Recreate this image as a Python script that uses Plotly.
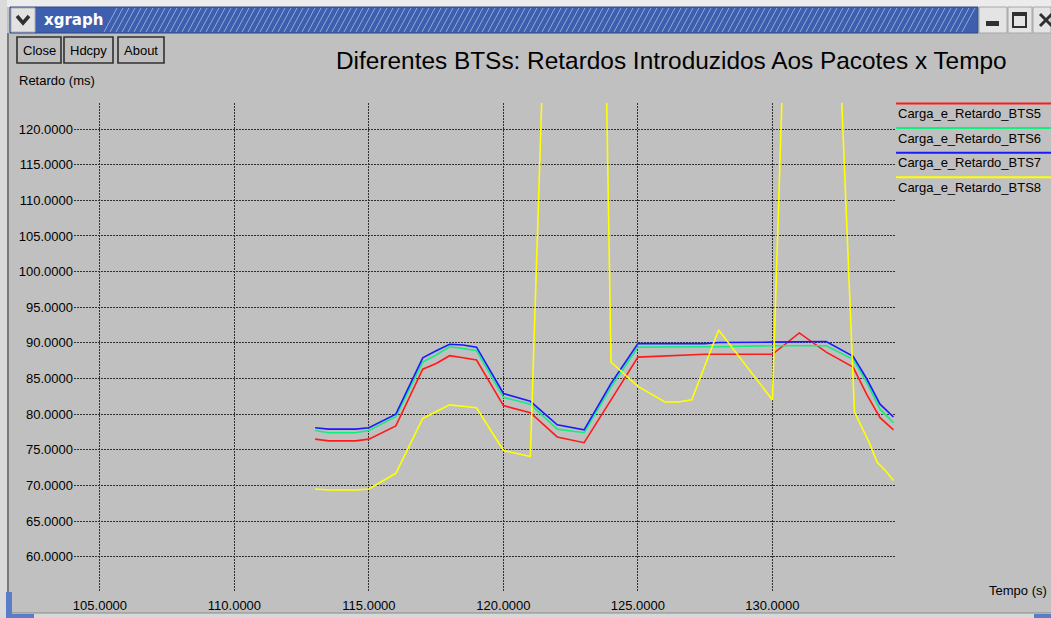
import plotly.graph_objects as go

# ---------------- data ----------------
title_text = "Diferentes BTSs: Retardos Introduzidos Aos Pacotes x Tempo"
x_label = "Tempo (s)"
y_label = "Retardo (ms)"
series_names = ["Carga_e_Retardo_BTS5", "Carga_e_Retardo_BTS6",
                "Carga_e_Retardo_BTS7", "Carga_e_Retardo_BTS8"]
series_colors = ["#ff1a1a", "#10ee80", "#1a1aff", "#ffff00"]

t_common = [113, 113.5, 114.5, 115, 116, 117, 117.5, 118, 118.5, 119, 120, 121,
            122, 122.5, 123, 124, 125, 127.5, 128, 130, 131, 131.5, 132, 133,
            133.5, 134, 134.5]
bts5 = [76.5, 76.25, 76.25, 76.5, 78.35, 86.3, 87.1, 88.2, 87.9, 87.6, 81.2, 80.2,
        76.8, 76.45, 76.0, 82.0, 88.0, 88.4, 88.4, 88.4, 91.4, 90.0, 88.7, 86.6,
        82.8, 79.5, 77.8]
bts6 = [77.7, 77.4, 77.4, 77.7, 79.65, 87.3, 88.3, 89.45, 89.2, 88.9, 82.35, 81.4,
        77.9, 77.6, 77.4, 83.8, 89.4, 89.45, 89.45, 89.6, 89.6, 89.6, 89.6, 87.7,
        84.5, 80.7, 78.8]
bts7 = [78.1, 77.9, 77.9, 78.1, 80.0, 87.9, 88.9, 89.8, 89.7, 89.4, 82.9, 81.8,
        78.5, 78.1, 77.8, 84.3, 89.9, 89.9, 90.05, 90.1, 90.1, 90.2, 90.2, 88.1,
        85.0, 81.4, 79.6]

t_bts8 = [113, 113.5, 114.5, 115, 116, 117, 118, 118.5, 119, 120, 121, 122, 123,
          123.5, 124, 125, 126, 126.5, 127, 128, 130, 131, 132, 132.5, 133.05,
          133.6, 133.9, 134.2, 134.5]
bts8 = [69.5, 69.35, 69.35, 69.5, 71.7, 79.4, 81.3, 81.1, 80.9, 74.9, 74.05, 192,
        230, 200, 87.3, 83.9, 81.7, 81.7, 82.0, 91.8, 82.0, 201, 180, 131, 80.3,
        76.0, 73.2, 72.1, 70.7]

x_ticks = [105, 110, 115, 120, 125, 130]
y_ticks = [60, 65, 70, 75, 80, 85, 90, 95, 100, 105, 110, 115, 120]
buttons = ["Close", "Hdcpy", "About"]
window_title = "xgraph"

# ---------------- layout geometry ----------------
W, H = 1051, 618
L, R, T, B = 74, 156, 103, 27
PW = W - L - R
PH = H - T - B


def X(px):
    return (px - L) / PW


def Y(py):
    return (H - B - py) / PH


BG = "#c0c0c0"
FONT = "Liberation Sans, Arial, sans-serif"

fig = go.Figure()
xs = [t_common, t_common, t_common, t_bts8]
ys = [bts5, bts6, bts7, bts8]
for name, col, xx, yy in zip(series_names, series_colors, xs, ys):
    fig.add_trace(go.Scatter(x=xx, y=yy, mode="lines", name=name,
                             line=dict(color=col, width=1.6),
                             hoverinfo="skip"))

shapes = []
annotations = []

# window chrome -------------------------------------------------------------
shapes.append(dict(type="rect", xref="paper", yref="paper", x0=X(0), x1=X(W),
                   y0=Y(0), y1=Y(7), fillcolor="#ececec", line=dict(width=0),
                   layer="below"))
shapes.append(dict(type="rect", xref="paper", yref="paper", x0=X(0), x1=X(7),
                   y0=Y(0), y1=Y(H), fillcolor="#dadada", line=dict(width=0),
                   layer="below"))
shapes.append(dict(type="line", xref="paper", yref="paper", x0=X(8), x1=X(8),
                   y0=Y(33), y1=Y(614), line=dict(color="#7a7a7a", width=2)))
shapes.append(dict(type="rect", xref="paper", yref="paper", x0=X(0), x1=X(W),
                   y0=Y(613), y1=Y(H), fillcolor="#d8d8d8", line=dict(width=0)))
shapes.append(dict(type="line", xref="paper", yref="paper", x0=X(8), x1=X(W),
                   y0=Y(613), y1=Y(613), line=dict(color="#8a8a8a", width=1)))
# blue corners
shapes.append(dict(type="rect", xref="paper", yref="paper", x0=X(6), x1=X(12),
                   y0=Y(592), y1=Y(H), fillcolor="#5a7dc8", line=dict(width=0)))
shapes.append(dict(type="rect", xref="paper", yref="paper", x0=X(6), x1=X(34),
                   y0=Y(614), y1=Y(H), fillcolor="#5a7dc8", line=dict(width=0)))
shapes.append(dict(type="rect", xref="paper", yref="paper", x0=X(1034), x1=X(W),
                   y0=Y(614), y1=Y(H), fillcolor="#5a7dc8", line=dict(width=0)))

# title bar
shapes.append(dict(type="rect", xref="paper", yref="paper", x0=X(10), x1=X(978),
                   y0=Y(7), y1=Y(33), fillcolor="#3e5fae",
                   line=dict(color="#2e4a8a", width=1)))
for sx in range(104, 964, 6):
    shapes.append(dict(type="line", xref="paper", yref="paper",
                       x0=X(sx), x1=X(sx + 13), y0=Y(32), y1=Y(8),
                       line=dict(color="#92a9dc", width=1)))
# menu (down arrow) box
shapes.append(dict(type="rect", xref="paper", yref="paper", x0=X(11), x1=X(35),
                   y0=Y(8), y1=Y(32), fillcolor="#e2e2e2",
                   line=dict(color="#b0b0b0", width=1)))
shapes.append(dict(type="path", xref="paper", yref="paper",
                   path="M {} {} L {} {} L {} {}".format(X(17), Y(16), X(23), Y(23),
                                                        X(29), Y(16)),
                   line=dict(color="#303030", width=3.5)))
# right buttons
for bx0, bx1 in [(979, 1007), (1008, 1032), (1033, 1051)]:
    shapes.append(dict(type="rect", xref="paper", yref="paper", x0=X(bx0),
                       x1=X(bx1), y0=Y(7), y1=Y(33), fillcolor="#e4e4e4",
                       line=dict(color="#a8a8a8", width=1)))
shapes.append(dict(type="rect", xref="paper", yref="paper", x0=X(986), x1=X(999),
                   y0=Y(21), y1=Y(26), fillcolor="#303030", line=dict(width=0)))
shapes.append(dict(type="rect", xref="paper", yref="paper", x0=X(1013), x1=X(1026),
                   y0=Y(13), y1=Y(27), fillcolor="rgba(0,0,0,0)",
                   line=dict(color="#303030", width=2)))
shapes.append(dict(type="rect", xref="paper", yref="paper", x0=X(1013), x1=X(1026),
                   y0=Y(13), y1=Y(16), fillcolor="#303030", line=dict(width=0)))
shapes.append(dict(type="line", xref="paper", yref="paper", x0=X(1040), x1=X(1052),
                   y0=Y(14), y1=Y(26), line=dict(color="#303030", width=3)))
shapes.append(dict(type="line", xref="paper", yref="paper", x0=X(1040), x1=X(1052),
                   y0=Y(26), y1=Y(14), line=dict(color="#303030", width=3)))

annotations.append(dict(text="<b>%s</b>" % window_title, xref="paper", yref="paper",
                        x=X(42), y=Y(20), xanchor="left", yanchor="middle",
                        showarrow=False,
                        font=dict(family="DejaVu Sans, sans-serif", size=15,
                                  color="white")))

# xgraph buttons
btn_pos = [(17, 61), (64, 113), (118, 164)]
for label, (bx0, bx1) in zip(buttons, btn_pos):
    shapes.append(dict(type="rect", xref="paper", yref="paper", x0=X(bx0),
                       x1=X(bx1), y0=Y(37), y1=Y(63), fillcolor=BG,
                       line=dict(color="#303030", width=1.6)))
    annotations.append(dict(text=label, xref="paper", yref="paper",
                            x=X((bx0 + bx1) / 2), y=Y(50), xanchor="center",
                            yanchor="middle", showarrow=False,
                            font=dict(family=FONT, size=13, color="black")))

# titles
annotations.append(dict(text=title_text, xref="paper", yref="paper", x=X(334),
                        y=Y(61), xanchor="left", yanchor="middle",
                        showarrow=False,
                        font=dict(family=FONT, size=24.4, color="black")))
annotations.append(dict(text=y_label, xref="paper", yref="paper", x=X(17),
                        y=Y(81), xanchor="left", yanchor="middle",
                        showarrow=False,
                        font=dict(family=FONT, size=13, color="black")))
annotations.append(dict(text=x_label, xref="paper", yref="paper", x=X(1049),
                        y=Y(590), xanchor="right", yanchor="middle",
                        showarrow=False,
                        font=dict(family=FONT, size=13, color="black")))

# legend (xgraph style: line above each label)
for i, (name, col) in enumerate(zip(series_names, series_colors)):
    ly = 103.5 + i * 24.6
    shapes.append(dict(type="line", xref="paper", yref="paper", x0=X(896),
                       x1=X(W), y0=Y(ly), y1=Y(ly),
                       line=dict(color=col, width=2)))
    annotations.append(dict(text=name, xref="paper", yref="paper", x=X(896),
                            y=Y(ly + 10), xanchor="left", yanchor="middle",
                            showarrow=False,
                            font=dict(family=FONT, size=13, color="black")))

fig.update_layout(
    width=W, height=H, autosize=False,
    margin=dict(l=L, r=R, t=T, b=B, pad=0, autoexpand=False),
    paper_bgcolor=BG, plot_bgcolor=BG,
    showlegend=False,
    shapes=shapes, annotations=annotations,
    font=dict(family=FONT, size=13, color="black"),
)
fig.update_xaxes(range=[104.035, 134.557], tickvals=x_ticks,
                 ticktext=["%.4f" % v for v in x_ticks], ticks="",
                 showgrid=True, gridcolor="#303030", griddash="2px,1px",
                 gridwidth=1, zeroline=False, showline=False, automargin=False,
                 tickfont=dict(family=FONT, size=13, color="black"),
                 ticklabelstandoff=5)
fig.update_yaxes(range=[55.19, 123.65], tickvals=y_ticks,
                 ticktext=["%.4f" % v for v in y_ticks], ticks="",
                 showgrid=True, gridcolor="#303030", griddash="2px,1px",
                 gridwidth=1, zeroline=False, showline=False, automargin=False,
                 tickfont=dict(family=FONT, size=13, color="black"),
                 ticklabelstandoff=0)

fig.write_html("out.html", config={"displayModeBar": False},
               post_script="document.body.style.margin='0px';"
                           "document.body.style.overflow='hidden';")
